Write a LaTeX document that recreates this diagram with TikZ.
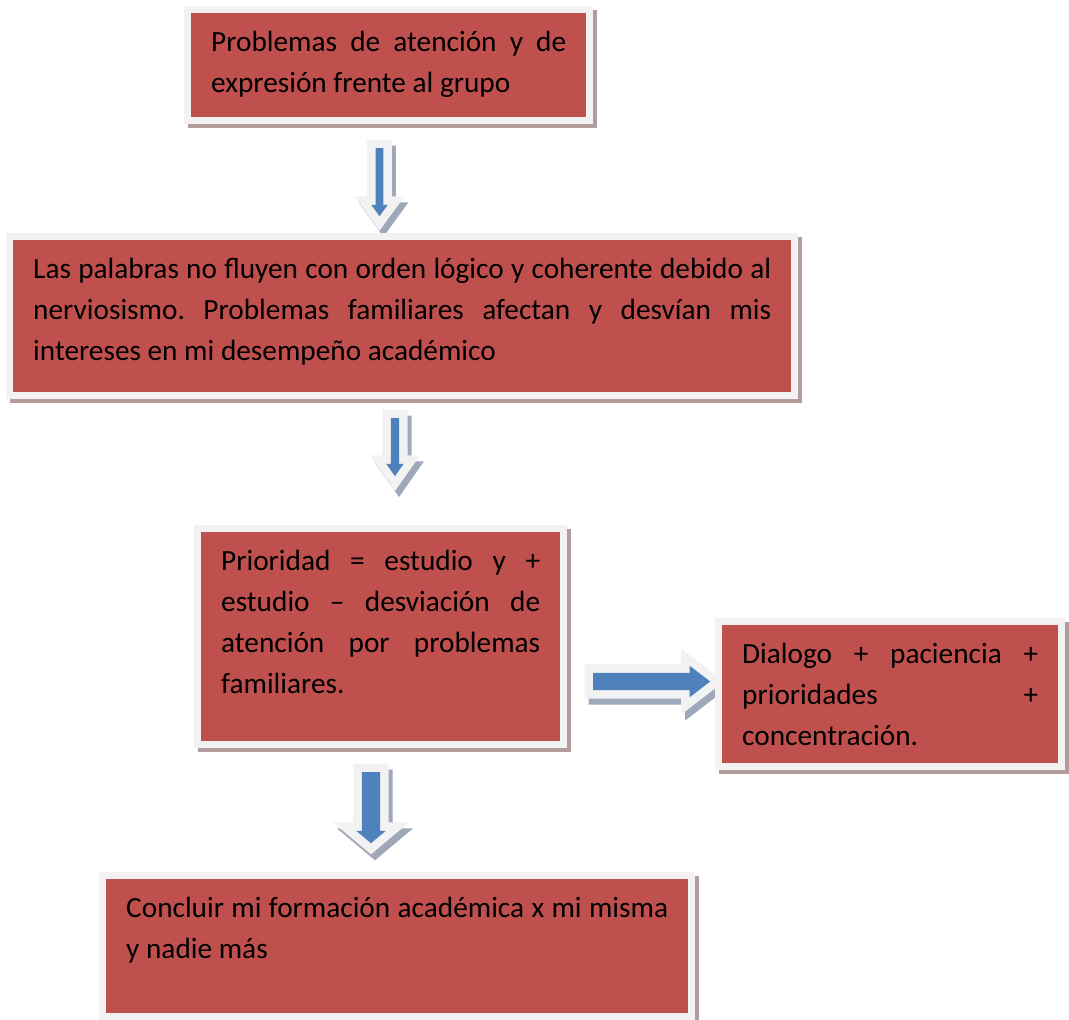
\documentclass[tikz,border=0pt]{standalone}
\usepackage{fontspec}
\setmainfont{Carlito}
\usetikzlibrary{shapes.arrows}
\frenchspacing

\definecolor{rojocaja}{HTML}{C0504D}
\definecolor{bordecaja}{HTML}{F2F2F2}
\definecolor{sombracaja}{HTML}{B39C9C}
\definecolor{azulflecha}{HTML}{4F81BD}
\definecolor{bordeflecha}{HTML}{F2F2F2}
\definecolor{sombraflecha}{HTML}{9EA8B8}

\begin{document}
\begin{tikzpicture}[x=1pt, y=-1pt,
  caja/.style={anchor=north west, fill=rojocaja, inner xsep=20pt, inner ysep=9.3pt, line join=miter,
    font=\fontsize{29.3}{41}\selectfont,
    preaction={fill=sombracaja, draw=sombracaja, line width=14pt, transform canvas={shift={(4,4)}}},
    preaction={draw=bordecaja, line width=14pt}},
  flecha/.style={single arrow, fill=azulflecha, line join=miter, minimum width=0pt, anchor=tail,
    single arrow head indent=0pt,
    preaction={fill=sombraflecha, draw=sombraflecha, line width=17pt, transform canvas={shift={(4,6)}}},
    preaction={draw=bordeflecha, line width=17pt}}]
\useasboundingbox (0,0) rectangle (1069,1020);
% Arrows (under the boxes)
\node[flecha, shape border rotate=270, inner sep=3.75pt, single arrow head extend=4.25pt, single arrow tip angle=72, minimum height=68pt] (f1) at (379.5,148) {};
\node[flecha, shape border rotate=270, inner sep=4pt, single arrow head extend=4.5pt, single arrow tip angle=70, minimum height=58pt] (f2) at (395,418) {};
\node[flecha, inner sep=8.5pt, single arrow head extend=7pt, single arrow tip angle=75, minimum height=117pt] (f3) at (593,681.5) {};
\node[flecha, shape border rotate=270, inner sep=9pt, single arrow head extend=5.5pt, single arrow tip angle=100, minimum height=71pt] (f4) at (371,772) {};
% Boxes
\node[caja] (atencion) at (191,13) {\parbox[t][85.4pt][t]{355pt}{\strut Problemas de atención y de\linebreak expresión frente al grupo}};
\node[caja] (palabras) at (13,240) {\parbox[t][133.4pt][t]{738pt}{\strut Las palabras no fluyen con orden lógico y coherente debido al\linebreak nerviosismo. Problemas familiares afectan y desvían mis\linebreak intereses en mi desempeño académico}};
\node[caja] (prioridad) at (201,532) {\parbox[t][190.4pt][t]{319pt}{\strut Prioridad = estudio y +\linebreak estudio – desviación de\linebreak atención por problemas\linebreak familiares.}};
\node[caja] (dialogo) at (722,625) {\parbox[t][119.4pt][t]{296pt}{\strut Dialogo + paciencia +\linebreak prioridades +\linebreak concentración.}};
\node[caja] (concluir) at (106,879) {\parbox[t][115.4pt][t]{542pt}{\strut Concluir mi formación académica x mi misma\linebreak y nadie más}};
\end{tikzpicture}
\end{document}
